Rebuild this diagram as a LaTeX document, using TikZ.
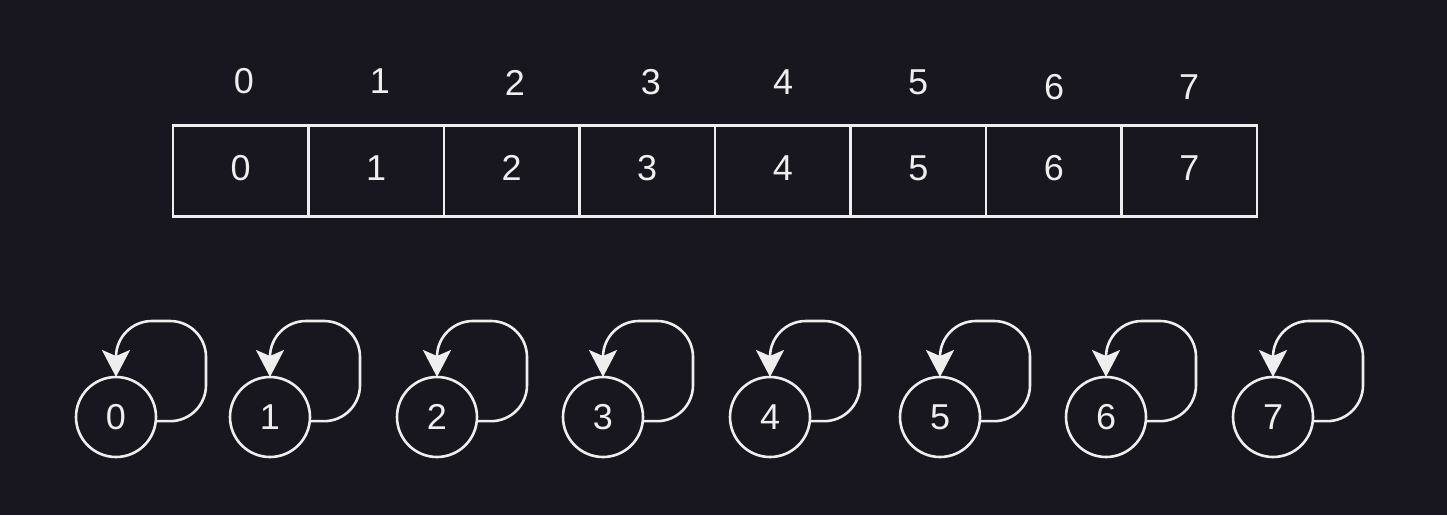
\documentclass[tikz,border=0pt]{standalone}
\usepackage{fontspec}
\setmainfont{Liberation Sans}
\usetikzlibrary{arrows.meta}
\definecolor{bgdark}{HTML}{18161E}
\definecolor{lineg}{HTML}{EEEEEE}
\tikzset{
	cell/.style={draw=lineg, line width=2.6pt, minimum width=135.5pt, minimum height=91pt, inner sep=0pt, outer sep=0pt, text height=25.8pt, text depth=6pt},
	idx/.style={text=lineg, inner sep=0pt},
	state/.style={circle, draw=lineg, line width=2.6pt, minimum size=80pt, inner sep=0pt, outer sep=0pt},
	selfloop/.style={draw=lineg, line width=2.6pt, rounded corners=36pt, -{Stealth[length=27pt,width=28pt,inset=6pt]}}
}
\begin{document}
\begin{tikzpicture}[x=1pt, y=-1pt, font=\fontsize{36pt}{40pt}\selectfont, text=lineg]
	% background
	\fill[bgdark] (0,0) rectangle (1447,515);
	\useasboundingbox (0,0) rectangle (1447,515);
	% array cells
	\foreach \i in {0,...,7}
		\node[cell] (a\i) at ({240.75+135.5*\i},171) {\i};
	% index labels
	\foreach \i/\x/\y in {0/244/81, 1/380/81, 2/515/83, 3/651/82, 4/783/82, 5/918/82, 6/1054/87, 7/1189/87}
		\node[idx] (l\i) at (\x,\y) {\i};
	% sets, each its own parent
	\foreach \i/\x in {0/116, 1/270, 2/437, 3/603, 4/770, 5/940, 6/1106, 7/1273} {
		\node[state] (c\i) at (\x,417) {\i};
		\draw[selfloop] (c\i.-6) -| ([xshift=90pt,yshift=56pt]c\i.north) -| (c\i.north);
	}
\end{tikzpicture}
\end{document}
